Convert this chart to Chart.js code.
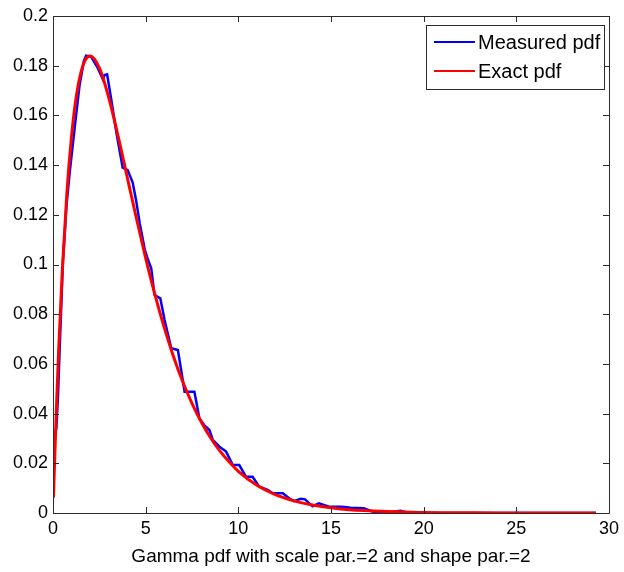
<!DOCTYPE html>
<html>
<head>
<meta charset="utf-8">
<script src="https://cdn.jsdelivr.net/npm/chart.js@4.4.1/dist/chart.umd.min.js"></script>
<style>
  html, body { margin: 0; padding: 0; background: #fff; }
  #wrap { width: 624px; height: 572px; }
</style>
</head>
<body>
<div id="wrap"><canvas id="gammaChart"></canvas></div>
<script>
// values
const xTicks = [0, 5, 10, 15, 20, 25, 30];
const yTicks = [0, 0.02, 0.04, 0.06, 0.08, 0.1, 0.12, 0.14, 0.16, 0.18, 0.2];

const measuredX = [0.1, 0.18, 0.27, 0.36, 0.45, 0.54, 0.63, 0.72, 0.9, 1.17,
  1.43, 1.67, 1.79, 2.06, 2.42, 2.69, 2.78, 2.92, 3.13, 3.4,
  3.59, 3.76, 4.03, 4.3, 4.48, 4.68, 4.95, 5.12, 5.3, 5.48,
  5.79, 6.02, 6.38, 6.74, 7.0, 7.1, 7.63, 7.9, 8.2, 8.44,
  8.62, 8.98, 9.34, 9.7, 10.05, 10.41, 10.77, 11.13, 11.58, 11.85,
  12.4, 12.74, 13.0, 13.37, 13.6, 14.0, 14.35, 14.9, 15.6, 16.06,
  16.77, 17.3, 18.3, 18.75, 19.2, 29.3];
const measuredY = [0.032, 0.034, 0.047, 0.066, 0.084, 0.102, 0.112, 0.123, 0.137, 0.155,
  0.172, 0.182, 0.184, 0.1836, 0.179, 0.1745, 0.1762, 0.1765, 0.167, 0.154,
  0.146, 0.139, 0.138, 0.133, 0.126, 0.1166, 0.106, 0.102, 0.0985, 0.0877,
  0.0864, 0.0777, 0.0663, 0.0656, 0.0535, 0.0488, 0.0488, 0.038, 0.035, 0.0334,
  0.0294, 0.0267, 0.0247, 0.0193, 0.0193, 0.0146, 0.0146, 0.0106, 0.0093, 0.0079,
  0.0079, 0.0059, 0.0048, 0.0057, 0.0055, 0.0027, 0.0039, 0.0025, 0.0025, 0.0021,
  0.0019, 0.0004, 0.0004, 0.0009, 0, 0];

const exactX = [0.025, 0.1, 0.2, 0.3, 0.5, 0.75, 1, 1.25, 1.5, 1.75,
  2, 2.5, 3, 3.5, 4, 4.5, 5, 5.5, 6, 6.5,
  7, 7.5, 8, 8.5, 9, 9.5, 10, 11, 12, 13,
  14, 15, 16, 17, 18, 19, 20, 22, 24, 26,
  28, 29.3];
const exactY = [0.0062, 0.0238, 0.0452, 0.0646, 0.0974, 0.1289, 0.1516, 0.1673, 0.1771, 0.1824,
  0.1839, 0.1791, 0.1674, 0.1521, 0.1353, 0.1186, 0.1026, 0.0879, 0.0747, 0.0630,
  0.0528, 0.0441, 0.0366, 0.0303, 0.0250, 0.0206, 0.0168, 0.0112, 0.0074, 0.0049,
  0.0032, 0.0021, 0.0013, 0.0009, 0.0006, 0.0004, 0.0002, 0.0001, 0, 0,
  0, 0];

const seriesNames = ['Measured pdf', 'Exact pdf'];
const xLabel = 'Gamma pdf with scale par.=2 and shape par.=2';

const FONT = 'Arial, "Liberation Sans", sans-serif';
const AXIS_COLOR = '#2b2b2b';

function toPoints(xs, ys) {
    return xs.map((x, i) => ({ x: x, y: ys[i] }));
}

// box round the plot with inward ticks on all four sides (matlab look)
const boxPlugin = {
    id: 'boxTicks',
    afterDraw(chart) {
        const ctx = chart.ctx;
        const a = chart.chartArea;
        const sx = chart.scales.x, sy = chart.scales.y;
        const len = 6;
        ctx.save();
        ctx.strokeStyle = AXIS_COLOR;
        ctx.lineWidth = 1;
        ctx.beginPath();
        ctx.rect(Math.round(a.left) + 0.5, Math.round(a.top) + 0.5,
                 Math.round(a.right - a.left), Math.round(a.bottom - a.top));
        xTicks.forEach(v => {
            const px = Math.round(sx.getPixelForValue(v)) + 0.5;
            ctx.moveTo(px, a.bottom); ctx.lineTo(px, a.bottom - len);
            ctx.moveTo(px, a.top); ctx.lineTo(px, a.top + len);
        });
        yTicks.forEach(v => {
            const py = Math.round(sy.getPixelForValue(v)) + 0.5;
            ctx.moveTo(a.left, py); ctx.lineTo(a.left + len, py);
            ctx.moveTo(a.right, py); ctx.lineTo(a.right - len, py);
        });
        ctx.stroke();
        ctx.restore();
    }
};

// legend drawn inside the plot, top right
const insideLegend = {
    id: 'insideLegend',
    afterDraw(chart) {
        const ctx = chart.ctx;
        const a = chart.chartArea;
        const w = 178, h = 64;
        const left = a.right - 5 - w, top = a.top + 9;
        ctx.save();
        ctx.fillStyle = '#fff';
        ctx.fillRect(left, top, w, h);
        ctx.strokeStyle = AXIS_COLOR;
        ctx.lineWidth = 1;
        ctx.strokeRect(Math.round(left) + 0.5, Math.round(top) + 0.5, w, h);
        ctx.font = '20px ' + FONT;
        ctx.textBaseline = 'middle';
        chart.data.datasets.forEach((ds, i) => {
            const y = top + 17 + i * 29;
            ctx.strokeStyle = ds.borderColor;
            ctx.lineWidth = 2;
            ctx.beginPath();
            ctx.moveTo(left + 8, y);
            ctx.lineTo(left + 49, y);
            ctx.stroke();
            ctx.fillStyle = '#000';
            ctx.fillText(ds.label, left + 52, y + 1);
        });
        ctx.restore();
    }
};

window.addEventListener('DOMContentLoaded', event => {
    const ctx = document.getElementById('gammaChart');
    new Chart(ctx, {
        type: 'line',
        data: {
            datasets: [{
                label: seriesNames[0],
                data: toPoints(measuredX, measuredY),
                borderColor: '#0000ff',
                borderWidth: 2.5,
                pointRadius: 0,
                tension: 0,
                order: 1
            }, {
                label: seriesNames[1],
                data: toPoints(exactX, exactY),
                borderColor: '#ff0000',
                borderWidth: 3,
                pointRadius: 0,
                cubicInterpolationMode: 'monotone',
                order: 0
            }]
        },
        options: {
            responsive: true,
            maintainAspectRatio: false,
            animation: false,
            layout: { padding: { top: 16, right: 13, left: 0, bottom: 0 } },
            plugins: {
                legend: { display: false },
                tooltip: { enabled: false }
            },
            scales: {
                x: {
                    type: 'linear',
                    min: 0,
                    max: 30,
                    grid: { display: false, drawTicks: false },
                    border: { display: false },
                    afterBuildTicks: scale => { scale.ticks = xTicks.map(v => ({ value: v })); },
                    afterFit: scale => { scale.height = 59; },
                    ticks: {
                        padding: 5,
                        color: '#000',
                        maxRotation: 0,
                        font: { family: FONT, size: 18 }
                    },
                    title: {
                        display: true,
                        text: xLabel,
                        color: '#000',
                        padding: { top: 2, bottom: 4 },
                        font: { family: FONT, size: 19 }
                    }
                },
                y: {
                    min: 0,
                    max: 0.2,
                    grid: { display: false, drawTicks: false },
                    border: { display: false },
                    afterBuildTicks: scale => { scale.ticks = yTicks.map(v => ({ value: v })); },
                    afterFit: scale => { scale.width = 53; },
                    ticks: {
                        padding: 5,
                        color: '#000',
                        font: { family: FONT, size: 18 },
                        callback: v => String(Number(v.toFixed(2)))
                    }
                }
            }
        },
        plugins: [boxPlugin, insideLegend]
    });
});
</script>
</body>
</html>
